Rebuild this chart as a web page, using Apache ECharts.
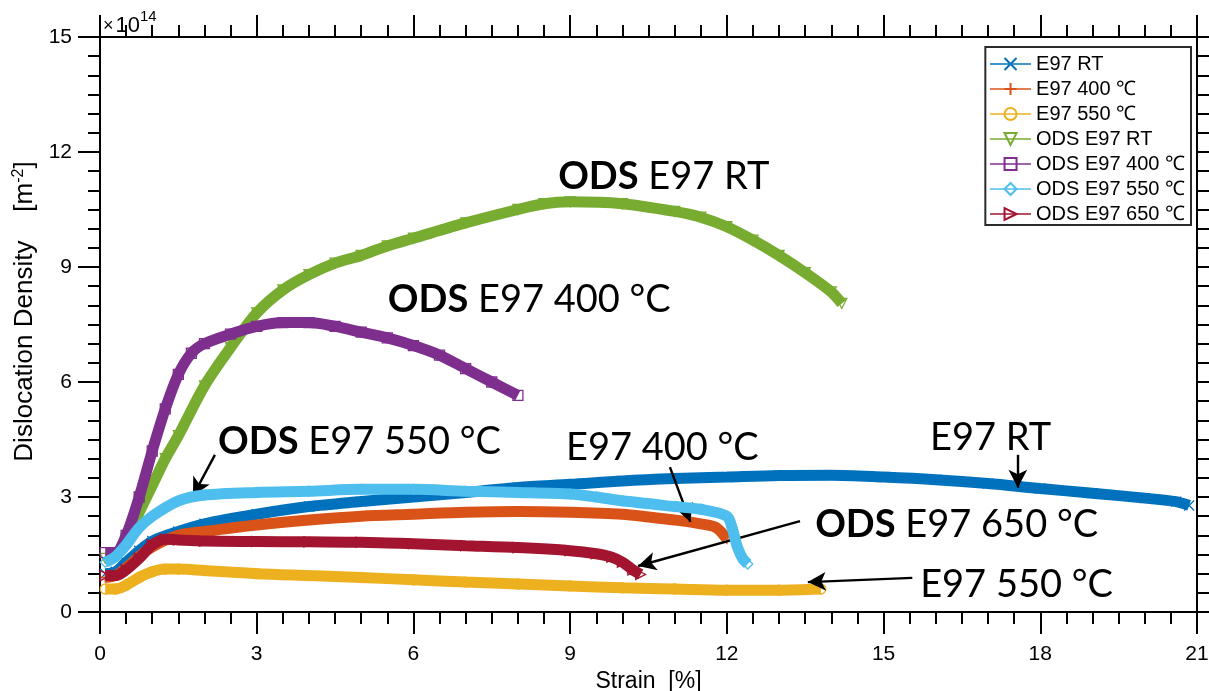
<!DOCTYPE html>
<html>
<head>
<meta charset="utf-8">
<script src="https://cdn.jsdelivr.net/npm/echarts@6/dist/echarts.min.js"></script>
<style>
  html, body { margin: 0; padding: 0; background: #fff; }
  #chart { width: 1209px; height: 691px; }
</style>
</head>
<body>
<div id="chart"></div>
<script>
// strain [%], dislocation density [x10^14 m^-2]
const e97RT = [[0.1,1.0],[0.3,1.05],[0.5,1.3],[0.75,1.6],[1.0,1.85],[1.5,2.1],[2.0,2.3],[3.0,2.55],[4.0,2.75],[5.0,2.88],[6.0,3.0],[7.0,3.12],[8.0,3.25],[9.0,3.33],[10.0,3.42],[11.0,3.48],[12.0,3.52],[13.0,3.56],[14.0,3.57],[15.0,3.52],[16.0,3.45],[17.0,3.35],[18.0,3.22],[19.0,3.1],[20.0,2.97],[20.6,2.88],[20.85,2.78]];
const e97_400 = [[0.1,0.9],[0.3,0.95],[0.5,1.15],[0.75,1.45],[1.0,1.7],[1.5,2.0],[2.0,2.1],[3.0,2.27],[4.0,2.4],[5.0,2.5],[6.0,2.55],[7.0,2.6],[8.0,2.62],[9.0,2.6],[10.0,2.55],[10.5,2.48],[11.0,2.4],[11.5,2.3],[11.8,2.2],[12.0,1.9]];
const e97_550 = [[0.1,0.6],[0.3,0.6],[0.5,0.7],[0.75,0.9],[1.0,1.05],[1.25,1.12],[1.5,1.12],[2.0,1.08],[3.0,1.0],[4.0,0.95],[5.0,0.9],[6.0,0.84],[7.0,0.78],[8.0,0.73],[9.0,0.68],[10.0,0.63],[11.0,0.6],[12.0,0.57],[13.0,0.57],[13.8,0.6]];
const odsRT = [[0.1,1.4],[0.3,1.45],[0.5,1.9],[0.75,2.6],[1.0,3.3],[1.25,4.0],[1.5,4.6],[2.0,5.9],[2.5,6.9],[3.0,7.8],[3.5,8.4],[4.0,8.8],[4.5,9.1],[5.0,9.3],[5.5,9.55],[6.0,9.75],[7.0,10.15],[8.0,10.5],[8.5,10.65],[9.0,10.7],[10.0,10.65],[11.0,10.45],[11.5,10.3],[12.0,10.05],[12.5,9.7],[13.0,9.3],[13.5,8.85],[14.0,8.35],[14.2,8.05]];
const ods400 = [[0.1,1.55],[0.3,1.55],[0.5,2.0],[0.75,3.0],[1.0,4.2],[1.25,5.3],[1.5,6.2],[1.75,6.75],[2.0,7.0],[2.5,7.25],[3.0,7.45],[3.5,7.55],[4.0,7.55],[4.5,7.45],[5.0,7.3],[5.5,7.15],[6.0,6.95],[6.5,6.7],[7.0,6.35],[7.5,6.0],[8.0,5.65]];
const ods550 = [[0.1,1.3],[0.3,1.45],[0.5,1.75],[0.75,2.2],[1.0,2.5],[1.5,2.9],[2.0,3.05],[3.0,3.12],[4.0,3.15],[5.0,3.2],[6.0,3.2],[7.0,3.15],[8.0,3.12],[9.0,3.08],[9.5,3.0],[10.0,2.9],[11.0,2.75],[11.5,2.68],[12.0,2.5],[12.1,2.2],[12.2,1.7],[12.3,1.4],[12.4,1.25]];
const ods650 = [[0.1,0.95],[0.3,0.95],[0.5,1.1],[0.75,1.4],[1.0,1.75],[1.25,1.9],[1.5,1.88],[2.0,1.85],[3.0,1.84],[4.0,1.83],[5.0,1.82],[6.0,1.78],[7.0,1.73],[8.0,1.68],[9.0,1.6],[9.5,1.52],[9.8,1.43],[10.0,1.3],[10.2,1.1],[10.35,0.98]];

const seriesNames = ["E97 RT", "E97 400 ℃", "E97 550 ℃", "ODS E97 RT", "ODS E97 400 ℃", "ODS E97 550 ℃", "ODS E97 650 ℃"];
const seriesData = [e97RT, e97_400, e97_550, odsRT, ods400, ods550, ods650];
const seriesColors = ["#0072BD", "#D95319", "#EDB120", "#77AC30", "#7E2F8E", "#4DBEEE", "#A2142F"];

// axis ticks
const xTicks = [0, 3, 6, 9, 12, 15, 18, 21];
const yTicks = [0, 3, 6, 9, 12, 15];

// annotations: [bold part, normal part, strain, density (left edge / middle)]
const noteTexts = [
  ["ODS", " E97 RT", 8.77, 11.35],
  ["ODS", " E97 400 °C", 5.51, 8.14],
  ["ODS", " E97 550 °C", 2.26, 4.44],
  ["", "E97 400 °C", 8.92, 4.28],
  ["", "E97 RT", 15.89, 4.54],
  ["ODS", " E97 650 °C", 13.69, 2.27],
  ["", "E97 550 °C", 15.70, 0.70]
];
// arrows: from -> to (strain, density)
const noteArrows = [
  [[2.20, 4.10], [1.78, 3.03]],
  [[10.91, 3.78], [11.30, 2.35]],
  [[17.57, 4.10], [17.57, 3.24]],
  [[13.40, 2.37], [10.30, 1.20]],
  [[15.55, 0.89], [13.55, 0.78]]
];

const markerSymbols = [
  "path://M0,0L10,10M10,0L0,10",
  "path://M5,0L5,10M0,5L10,5",
  "circle",
  "triangle",
  "rect",
  "diamond",
  "triangle"
];
const markerRotate = [0, 0, 0, 180, 0, 0, -90];

const axisFont = "Liberation Sans, Arial, sans-serif";
const noteFont = "Lato, 'Open Sans', sans-serif";

const chart = echarts.init(document.getElementById("chart"));

const boxAxis = (extra) => Object.assign({
  type: "value",
  axisLine: { show: true, onZero: false, lineStyle: { color: "#000", width: 2 } },
  axisTick: { show: true, inside: false, length: 22, lineStyle: { color: "#000", width: 2 } },
  minorTick: { show: true, splitNumber: 6, length: 12, lineStyle: { color: "#000", width: 2 } },
  splitLine: { show: false },
  minorSplitLine: { show: false }
}, extra);

const xAxes = [
  boxAxis({
    position: "bottom", min: xTicks[0], max: xTicks[xTicks.length - 1], interval: 3,
    name: "Strain  [%]", nameLocation: "middle", nameGap: 56,
    nameTextStyle: { fontFamily: axisFont, fontSize: 23, color: "#000" },
    axisLabel: { fontFamily: axisFont, fontSize: 21, color: "#000", margin: 32 }
  }),
  boxAxis({
    position: "top", min: xTicks[0], max: xTicks[xTicks.length - 1], interval: 3,
    axisLabel: { show: false }
  })
];
const yAxes = [
  boxAxis({
    position: "left", min: yTicks[0], max: yTicks[yTicks.length - 1], interval: 3,
    name: "Dislocation Density    [m{sup|-2}]", nameLocation: "middle", nameGap: 59,
    nameTextStyle: {
      fontFamily: axisFont, fontSize: 26, color: "#000", padding: [0, 0, 0, 26],
      rich: { sup: { fontFamily: axisFont, fontSize: 16, color: "#000", padding: [0, 0, 12, 0] } }
    },
    axisLabel: { fontFamily: axisFont, fontSize: 21, color: "#000", margin: 28 }
  }),
  boxAxis({
    position: "right", min: yTicks[0], max: yTicks[yTicks.length - 1], interval: 3,
    axisLabel: { show: false }
  })
];

const dataSeries = seriesData.map((d, i) => ({
  name: seriesNames[i],
  type: "line",
  data: d,
  smooth: 0.3,
  symbol: markerSymbols[i],
  symbolRotate: markerRotate[i],
  symbolSize: 10,
  showSymbol: true,
  lineStyle: { color: seriesColors[i], width: 11 },
  itemStyle: { color: "rgba(0,0,0,0)", borderColor: seriesColors[i], borderWidth: 1.3 },
  emphasis: { disabled: true },
  silent: true,
  z: 2 + i
}));

// helper series carrying the annotation arrows
const arrowSeries = {
  name: "arrows",
  type: "line",
  data: [],
  silent: true,
  z: 20,
  markLine: {
    silent: true,
    animation: false,
    symbol: ["none", "arrow"],
    symbolSize: [14, 18],
    lineStyle: { color: "#000", width: 2.4, type: "solid" },
    label: { show: false },
    emphasis: { disabled: true },
    data: noteArrows.map(a => [{ coord: a[0] }, { coord: a[1] }])
  }
};

chart.setOption({
  animation: false,
  backgroundColor: "#fff",
  grid: { left: 100, right: 12, top: 37, bottom: 79, containLabel: false, outerBoundsMode: "none" },
  xAxis: xAxes,
  yAxis: yAxes,
  legend: {
    data: seriesNames,
    orient: "vertical",
    right: 18,
    top: 47,
    backgroundColor: "#fff",
    borderColor: "#2b2b2b",
    borderWidth: 2,
    padding: [7, 6, 1, 4],
    itemWidth: 41,
    itemHeight: 15,
    itemGap: 5,
    lineStyle: { width: 1.4 },
    textStyle: { fontFamily: axisFont, fontSize: 20, lineHeight: 20, color: "#000" },
    selectedMode: false
  },
  series: dataSeries.concat([arrowSeries])
});

// annotation texts placed in data space
const noteGraphics = noteTexts.map(t => {
  const p = chart.convertToPixel({ gridIndex: 0 }, [t[2], t[3]]);
  return {
    type: "text",
    x: p[0],
    y: p[1],
    z: 100,
    silent: true,
    style: {
      text: (t[0] ? "{b|" + t[0] + "}" : "") + "{n|" + t[1] + "}",
      align: "left",
      verticalAlign: "middle",
      rich: {
        b: { fontFamily: noteFont, fontWeight: "bold", fontSize: 38, fill: "#000" },
        n: { fontFamily: noteFont, fontSize: 38, fill: "#000" }
      }
    }
  };
});

// axis exponent
const origin = chart.convertToPixel({ gridIndex: 0 }, [0, 15]);
noteGraphics.push({
  type: "text",
  x: origin[0] + 3,
  y: origin[1] - 28,
  z: 100,
  silent: true,
  style: {
    text: "{x|×}{t|10}{s|14}",
    rich: {
      x: { fontFamily: axisFont, fontSize: 18, fill: "#000", padding: [6, 2, 0, 0] },
      t: { fontFamily: axisFont, fontSize: 22, fill: "#000", padding: [6, 0, 0, 0] },
      s: { fontFamily: axisFont, fontSize: 15, fill: "#000", padding: [0, 0, 12, 0] }
    }
  }
});

chart.setOption({ graphic: noteGraphics });
</script>
</body>
</html>
